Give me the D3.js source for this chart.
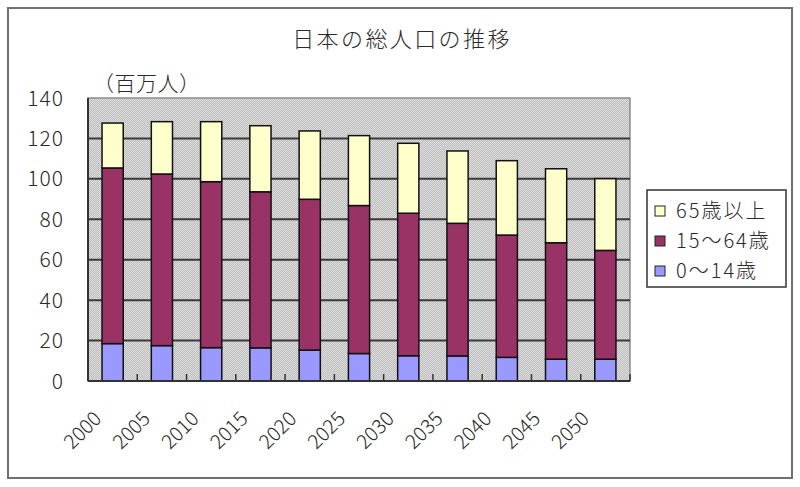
<!DOCTYPE html>
<html><head><meta charset="utf-8">
<script src="https://cdn.jsdelivr.net/npm/d3@7"></script>
<style>
body{margin:0;background:#fff;}
text{font-family:"Noto Sans CJK JP","Noto Sans",sans-serif;fill:#2a2a2a;font-weight:300;}
</style></head>
<body><svg id="c" width="800" height="487"></svg>
<script>
const years = ["2000","2005","2010","2015","2020","2025","2030","2035","2040","2045","2050"];
const age0_14  = [18.5, 17.5, 16.5, 16.4, 15.3, 13.6, 12.5, 12.4, 11.7, 10.8, 10.8];
const age15_64 = [86.9, 84.9, 82.1, 77.2, 74.6, 73.2, 70.5, 65.6, 60.5, 57.6, 53.8];
const age65    = [22.2, 25.9, 29.7, 32.7, 33.8, 34.6, 34.6, 35.8, 36.8, 36.6, 35.5];
const seriesNames = ["0～14歳","15～64歳","65歳以上"];
const seriesColors = ["#9999FF","#993366","#FFFFCC"];
const yTicks = [0,20,40,60,80,100,120,140];
const title = "日本の総人口の推移";
const unitLabel = "（百万人）";

const svg = d3.select("#c");
const defs = svg.append("defs");
const pat = defs.append("pattern").attr("id","dots").attr("width",2).attr("height",2).attr("patternUnits","userSpaceOnUse");
pat.append("rect").attr("width",2).attr("height",2).attr("fill","#BEBEBE");
pat.append("rect").attr("width",1).attr("height",1).attr("fill","#DCDCDC");
pat.append("rect").attr("x",1).attr("y",1).attr("width",1).attr("height",1).attr("fill","#DCDCDC");

// outer frame
svg.append("rect").attr("x",8).attr("y",8).attr("width",784).attr("height",470)
  .attr("fill","#fff").attr("stroke","#707070").attr("stroke-width",2);

svg.append("text").attr("x",402).attr("y",47).attr("text-anchor","middle")
  .style("font-size","22px").style("letter-spacing","2.4px").text(title);

const L=88,R=630,T=98,B=381;
const x = d3.scaleBand().domain(years).range([L,R]).paddingInner(0.57).paddingOuter(0.285);
const y = d3.scaleLinear().domain([0,140]).range([B,T]);

svg.append("rect").attr("x",L).attr("y",T).attr("width",R-L).attr("height",B-T)
  .attr("fill","url(#dots)").attr("stroke","#8a8a8a").attr("stroke-width",1.5);

// gridlines
svg.append("g").selectAll("line").data(yTicks.filter(d=>d>0&&d<140)).join("line")
  .attr("x1",L).attr("x2",R).attr("y1",d=>y(d)).attr("y2",d=>y(d))
  .attr("stroke","#3a3a3a").attr("stroke-width",2);

// stacked data
const table = years.map((yr,i)=>({year:yr, a:age0_14[i], b:age15_64[i], c:age65[i]}));
const stack = d3.stack().keys(["a","b","c"])(table);
svg.append("g").selectAll("g").data(stack).join("g")
  .attr("fill",(d,i)=>seriesColors[i])
  .selectAll("rect").data(d=>d).join("rect")
  .attr("x",d=>x(d.data.year)).attr("width",x.bandwidth())
  .attr("y",d=>y(d[1])).attr("height",d=>y(d[0])-y(d[1]))
  .attr("stroke","#111").attr("stroke-width",1.5);

// axes lines
svg.append("line").attr("x1",L).attr("x2",L).attr("y1",T).attr("y2",B).attr("stroke","#333").attr("stroke-width",2);
svg.append("line").attr("x1",L).attr("x2",R).attr("y1",B).attr("y2",B).attr("stroke","#333").attr("stroke-width",2);
// category tick marks
const step = x.step();
svg.append("g").selectAll("line").data(d3.range(1,years.length+1)).join("line")
  .attr("x1",d=>L+d*step).attr("x2",d=>L+d*step).attr("y1",B).attr("y2",B-7)
  .attr("stroke","#333").attr("stroke-width",1.5);

// y labels
svg.append("g").selectAll("text").data(yTicks).join("text")
  .attr("x",64).attr("y",d=>y(d)).attr("dy","0.36em").attr("text-anchor","end")
  .style("font-size","21px").style("letter-spacing","1px").text(d=>d);

svg.append("text").attr("x",93).attr("y",91).style("font-size","21px").style("letter-spacing","0.5px").text(unitLabel);

// x labels
svg.append("g").selectAll("text").data(years).join("text")
  .attr("text-anchor","end").style("font-size","20px")
  .attr("transform",(d,i)=>`translate(${x(d)+x.bandwidth()/2-10-i*0.5},420) rotate(-45)`)
  .text(d=>d);

// legend
const lg = svg.append("g");
lg.append("rect").attr("x",647).attr("y",190).attr("width",139).attr("height",97)
  .attr("fill","#fff").attr("stroke","#333").attr("stroke-width",1.5);
const order=[2,1,0];
lg.selectAll("g.it").data(order).join("g").attr("class","it")
  .attr("transform",(d,i)=>`translate(655,${211+i*30})`)
  .each(function(d){
    const g=d3.select(this);
    g.append("rect").attr("x",0).attr("y",-5).attr("width",10).attr("height",10)
      .attr("fill",seriesColors[d]).attr("stroke","#222").attr("stroke-width",1);
    g.append("text").attr("x",21).attr("y",0).attr("dy","0.36em").style("font-size","20px").style("letter-spacing","2px").text(seriesNames[d]);
  });
</script></body></html>
